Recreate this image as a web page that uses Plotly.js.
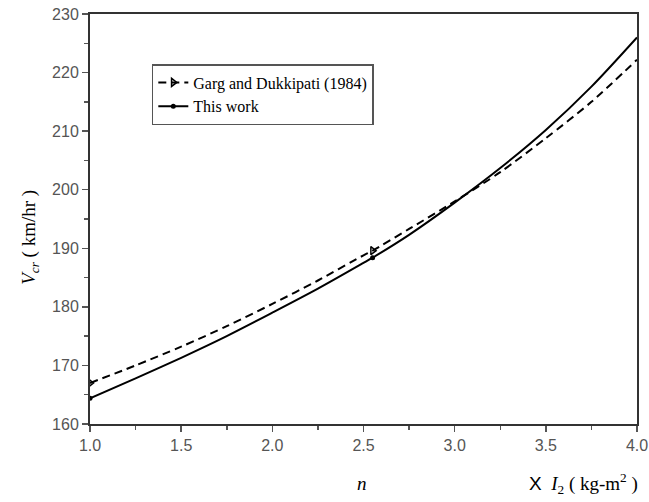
<!DOCTYPE html>
<html>
<head>
<meta charset="utf-8">
<script src="https://cdn.plot.ly/plotly-3.0.1.min.js"></script>
<style>html,body{margin:0;padding:0;background:#fff;}#chart{width:649px;height:502px;}</style>
</head>
<body>
<div id="chart"></div>
<script>
// x values (n)
const nValues = [1.0, 1.25, 1.5, 1.75, 2.0, 2.25, 2.5, 2.55, 2.75, 3.0, 3.25, 3.5, 3.75, 4.0];
// Garg and Dukkipati (1984)
const gargValues = [167.0, 170.0, 173.2, 176.7, 180.5, 184.5, 188.8, 189.6, 193.3, 198.0, 203.0, 208.8, 215.0, 222.2];
// This work
const thisWorkValues = [164.4, 167.8, 171.3, 175.0, 179.0, 183.1, 187.5, 188.4, 192.3, 197.8, 203.7, 210.2, 217.6, 226.0];
// points where the plotting symbol is visible
const markedN = [1.0, 2.55];
const seriesNames = ['Garg and Dukkipati (1984)', 'This work'];
const xTickVals = [1.0, 1.5, 2.0, 2.5, 3.0, 3.5, 4.0];
const xTickText = ['1.0', '1.5', '2.0', '2.5', '3.0', '3.5', '4.0'];
const yTickVals = [160, 170, 180, 190, 200, 210, 220, 230];

const markColors = nValues.map(v => markedN.includes(v) ? '#000' : 'rgba(0,0,0,0)');

const traces = [
  {
    x: nValues, y: gargValues, name: seriesNames[0], type: 'scatter', mode: 'lines+markers',
    line: {color: '#000', width: 2, dash: '8px,5px', shape: 'spline', smoothing: 0.8},
    marker: {symbol: 'triangle-right-open', size: 7, color: markColors, line: {color: markColors, width: 1.5}}
  },
  {
    x: nValues, y: thisWorkValues, name: seriesNames[1], type: 'scatter', mode: 'lines+markers',
    line: {color: '#000', width: 2, shape: 'spline', smoothing: 0.8},
    marker: {symbol: 'circle', size: 5, color: markColors, line: {width: 0}}
  }
];

const axisCommon = {
  showline: true, linecolor: '#333', linewidth: 2, mirror: true,
  ticks: 'outside', ticklen: 6, tickwidth: 1.5, tickcolor: '#555',
  showgrid: false, zeroline: false,
  tickfont: {family: 'Liberation Sans, Arial, sans-serif', size: 16, color: '#555'}
};

const layout = {
  width: 649, height: 502,
  margin: {l: 90, r: 12, t: 14, b: 78},
  paper_bgcolor: '#fff', plot_bgcolor: '#fff',
  showlegend: true,
  legend: {
    x: 0.113, y: 0.878, xanchor: 'left', yanchor: 'top',
    bgcolor: '#fff', bordercolor: '#555', borderwidth: 1.5,
    font: {family: 'Liberation Serif, Times New Roman, serif', size: 16, color: '#000'},
    tracegroupgap: 0
  },
  xaxis: Object.assign({}, axisCommon, {
    range: [1.0, 4.0], tickvals: xTickVals, ticktext: xTickText,
    minor: {ticks: 'outside', ticklen: 4, dtick: 0.25, tick0: 1.0, tickcolor: '#555', showgrid: false}
  }),
  yaxis: Object.assign({}, axisCommon, {
    range: [160, 230], tickvals: yTickVals,
    minor: {ticks: 'outside', ticklen: 4, dtick: 5, tick0: 160, tickcolor: '#555', showgrid: false}
  }),
  annotations: [
    {
      xref: 'paper', yref: 'paper', x: -0.11, y: 0.456, xanchor: 'center', yanchor: 'middle',
      textangle: -90, showarrow: false,
      text: '<i>V</i><sub><i>cr</i></sub> ( km/hr )',
      font: {family: 'Liberation Serif, Times New Roman, serif', size: 19, color: '#000'}
    },
    {
      xref: 'paper', yref: 'paper', x: 0.497, y: -0.144, xanchor: 'center', yanchor: 'middle',
      showarrow: false,
      text: '<i>n</i>',
      font: {family: 'Liberation Serif, Times New Roman, serif', size: 19, color: '#000'}
    },
    {
      xref: 'paper', yref: 'paper', x: 1.005, y: -0.144, xanchor: 'right', yanchor: 'middle',
      showarrow: false,
      text: '<span style="font-family:Liberation Sans, Arial, sans-serif">X</span>  <i>I</i><sub>2</sub> ( kg-m<sup>2</sup> )',
      font: {family: 'Liberation Serif, Times New Roman, serif', size: 19, color: '#000'}
    }
  ]
};

Plotly.newPlot('chart', traces, layout, {displayModeBar: false, staticPlot: true});
</script>
</body>
</html>
